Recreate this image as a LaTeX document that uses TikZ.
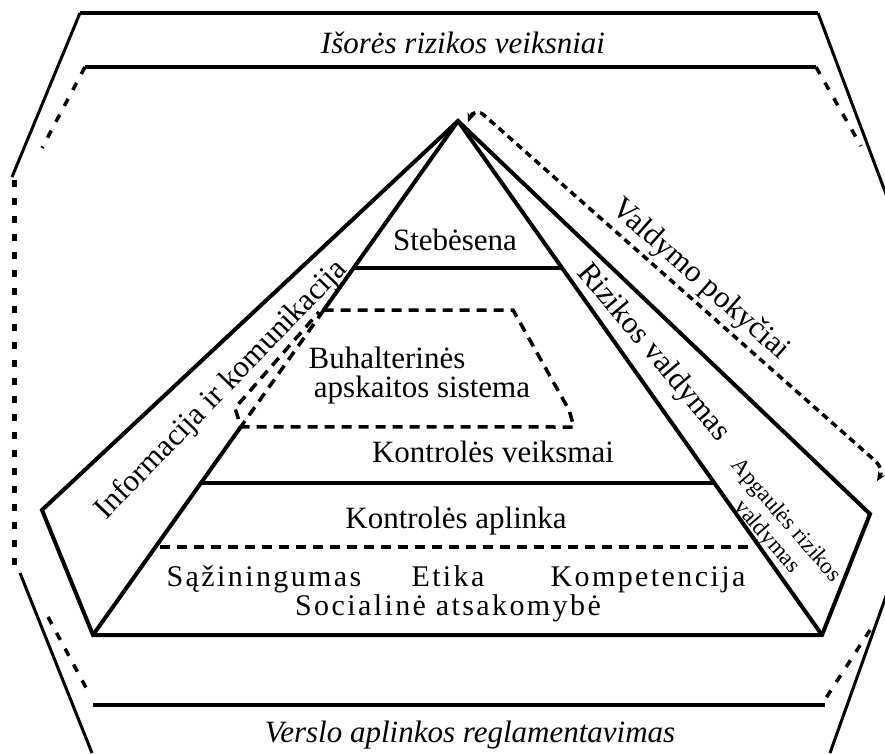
\documentclass[tikz,border=0pt]{standalone}
\usepackage{fontspec}
\setmainfont{Liberation Serif}
\usetikzlibrary{calc,arrows.meta}

\begin{document}
\begin{tikzpicture}[x=1pt, y=-1pt, line join=miter,
    heavy/.style={line width=4pt},
    thinline/.style={line width=3pt},
    boxdash/.style={line width=3.5pt, dash pattern=on 10pt off 7pt},
    hexdash/.style={line width=3.5pt, dash pattern=on 8pt off 10pt},
    sidedash/.style={line width=5pt, dash pattern=on 7pt off 11pt},
    arrdash/.style={line width=3.5pt, dash pattern=on 7pt off 5pt},
    lbl/.style={inner sep=0pt, font=\fontsize{31}{33}\selectfont},
    ilbl/.style={inner sep=0pt, font=\fontsize{31}{33}\selectfont\itshape},
    spaced/.style={inner sep=0pt, font=\fontsize{30}{32}\selectfont\addfontfeature{LetterSpace=8}},
    small/.style={inner sep=0pt, align=center, font=\fontsize{23}{25}\selectfont}]
    \useasboundingbox (0,0) rectangle (885,753);
    \clip (0,0) rectangle (885,753);
    % outer frame
    \draw[heavy] (80,13) -- (818,13);
    \draw[thinline] (80,13) -- (12,177);
    \draw[thinline] (818,13) -- (892,210);
    \draw[sidedash] (14,180) -- (14,572);
    \draw[thinline] (20,573) -- (92,753);
    \draw[thinline] (890,585) -- (830,753);
    % inner frame
    \draw[heavy] (85,67) -- (816,67);
    \draw[hexdash] (85,67) -- (42,148);
    \draw[hexdash] (816,67) -- (861,146);
    \draw[heavy] (93,705) -- (825,705);
    \draw[hexdash] (48,617) -- (90,695);
    \draw[hexdash] (870,630) -- (826,698);
    % pyramid
    \coordinate (apex) at (458,121);
    \coordinate (bl) at (93,635);
    \coordinate (br) at (822,635);
    \coordinate (lp) at (42,510);
    \coordinate (rp) at (870,514);
    \draw[heavy] (bl) -- (lp) -- (apex) -- (rp) -- (br) -- cycle;
    \draw[heavy] (apex) -- ($(apex)!0.368!(bl)$) coordinate (bxtl);
    \draw[heavy] ($(apex)!0.595!(bl)$) coordinate (bxbl) -- (bl);
    \draw[heavy] (apex) -- (br);
    \draw[boxdash] (bxtl) -- (bxbl);
    \draw[boxdash] (bxtl) -- (513,310) -- (569,410) -- (574,427) -- (bxbl) -- (235,408) -- (319,312);
    \draw[heavy] ($(apex)!0.286!(bl)$) -- ($(apex)!0.286!(br)$);
    \draw[heavy] ($(apex)!0.704!(bl)$) -- ($(apex)!0.704!(br)$);
    \draw[boxdash] (160,547) -- (752,547);
    \draw[arrdash, {Stealth[length=9pt,width=8pt]}-{Stealth[length=9pt,width=8pt]}]
        (468,122) .. controls (472,112) and (479,110) .. (485,116) -- (872,458)
        .. controls (882,466) and (882,473) .. (877,481);
    % labels
    \node[ilbl, anchor=base] (isores) at (463,53) {Išorės rizikos veiksniai};
    \node[ilbl, anchor=base] (verslo) at (470,742) {Verslo aplinkos reglamentavimas};
    \node[lbl, anchor=base] (steb) at (455,250) {Stebėsena};
    \node[lbl, anchor=base] (buh) at (387,368) {Buhalterinės};
    \node[lbl, anchor=base] (aps) at (422,397) {apskaitos sistema};
    \node[lbl, anchor=base] (kveiks) at (493,462) {Kontrolės veiksmai};
    \node[lbl, anchor=base] (kaplink) at (456,528) {Kontrolės aplinka};
    \node[spaced, anchor=base] (saz) at (264,586) {Sąžiningumas};
    \node[spaced, anchor=base] (etika) at (448,586) {Etika};
    \node[spaced, anchor=base] (komp) at (648,586) {Kompetencija};
    \node[spaced, anchor=base] (soc) at (448,615) {Socialinė atsakomybė};
    \node[lbl, rotate=46] (info) at (222,390) {Informacija ir komunikacija};
    \node[lbl, rotate=-50] (rizv) at (653,353) {Rizikos valdymas};
    \node[lbl, rotate=-41.5] (valdp) at (700,280) {Valdymo pokyčiai};
    \node[small, rotate=-49] (apg) at (776,529) {Apgaulės rizikos\\valdymas};
\end{tikzpicture}
\end{document}
